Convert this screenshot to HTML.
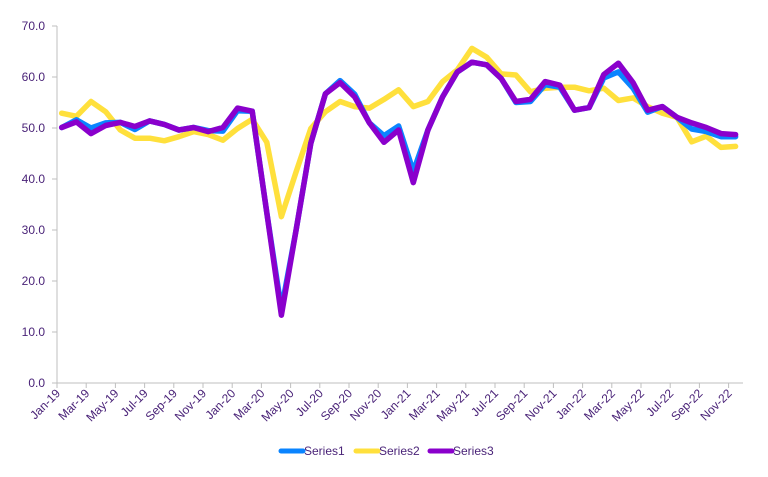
<!DOCTYPE html>
<html><head><meta charset="utf-8"><style>
body{margin:0;background:#fff;}
svg text{font-family:"Liberation Sans",sans-serif;fill:#4a2378;font-size:12px;}
</style></head><body>
<svg id="c" width="768" height="472" xmlns="http://www.w3.org/2000/svg">
<line x1="57" y1="26" x2="57" y2="383" stroke="#bfbfbf" stroke-width="1"/>
<line x1="57" y1="383" x2="743" y2="383" stroke="#bfbfbf" stroke-width="1"/>
<g id="yl"></g><g id="xl"></g>
<polyline id="s2" fill="none" stroke="#ffe03c" stroke-width="5.5" stroke-linejoin="round" stroke-linecap="round"/>
<polyline id="s1" fill="none" stroke="#0a84ff" stroke-width="5.5" stroke-linejoin="round" stroke-linecap="round"/>
<polyline id="s3" fill="none" stroke="#8a00cc" stroke-width="5.5" stroke-linejoin="round" stroke-linecap="round"/>
<line x1="281" y1="451" x2="303" y2="451" stroke="#0a84ff" stroke-width="5" stroke-linecap="round"/>
<text x="304" y="455">Series1</text>
<line x1="356" y1="451" x2="378" y2="451" stroke="#ffe03c" stroke-width="5" stroke-linecap="round"/>
<text x="379" y="455">Series2</text>
<line x1="430" y1="451" x2="452" y2="451" stroke="#8a00cc" stroke-width="5" stroke-linecap="round"/>
<text x="453" y="455">Series3</text>
</svg>
<script>
var s3=[50.1,51.2,48.9,50.5,51.1,50.3,51.4,50.7,49.6,50.1,49.3,50.1,53.9,53.3,33.4,13.3,30,47.0,56.7,58.9,56.1,51.0,47.2,49.6,39.3,49.6,56.1,61.0,62.9,62.4,59.7,55.2,55.6,59.1,58.4,53.5,54.0,60.5,62.7,58.9,53.5,54.2,52.1,51.0,50.1,48.9,48.7];
var s1=s3.slice();
s1[1]=51.6;s1[2]=50.0;s1[3]=51.0;s1[5]=49.7;s1[10]=49.5;s1[11]=49.4;s1[12]=53.4;s1[15]=14.5;s1[19]=59.3;s1[20]=56.6;s1[22]=48.5;s1[23]=50.4;s1[24]=41.5;s1[31]=55.0;s1[32]=55.2;s1[33]=58.5;s1[34]=58.0;s1[37]=59.8;s1[38]=61.0;s1[39]=57.8;s1[40]=53.1;s1[43]=49.8;s1[44]=49.3;s1[45]=48.3;s1[46]=48.3;
var s2=[52.9,52.3,55.2,53.2,49.6,48.0,48.0,47.5,48.3,49.3,48.7,47.6,49.9,51.7,47.2,32.6,41.4,49.9,53.2,55.2,54.2,53.9,55.6,57.5,54.2,55.2,59.1,61.4,65.6,63.9,60.6,60.4,57.1,57.8,58.0,58.0,57.3,57.8,55.4,55.9,54.2,52.9,52.1,47.3,48.4,46.2,46.4];
function X(i){return 61.7+i*14.65}function Y(v){return 383-v*5.1}
function pts(a){return a.map(function(v,i){return X(i).toFixed(1)+","+Y(v).toFixed(1)}).join(" ")}
document.getElementById("s1").setAttribute("points",pts(s1));
document.getElementById("s2").setAttribute("points",pts(s2));
document.getElementById("s3").setAttribute("points",pts(s3));
var ns="http://www.w3.org/2000/svg",yl=document.getElementById("yl"),xl=document.getElementById("xl");
for(var k=0;k<=7;k++){var y=Y(k*10);var l=document.createElementNS(ns,"line");l.setAttribute("x1",52);l.setAttribute("x2",57);l.setAttribute("y1",y);l.setAttribute("y2",y);l.setAttribute("stroke","#bfbfbf");yl.appendChild(l);
var t=document.createElementNS(ns,"text");t.setAttribute("x",45);t.setAttribute("y",y+4);t.setAttribute("text-anchor","end");t.textContent=(k*10).toFixed(1);yl.appendChild(t);}
var m=["Jan","Mar","May","Jul","Sep","Nov"];
for(var k=0;k<24;k++){var x=57+k*29.2;var l=document.createElementNS(ns,"line");l.setAttribute("x1",x);l.setAttribute("x2",x);l.setAttribute("y1",383);l.setAttribute("y2",388);l.setAttribute("stroke","#bfbfbf");xl.appendChild(l);
var t=document.createElementNS(ns,"text");var lx=x+4,ly=394;t.setAttribute("x",lx);t.setAttribute("y",ly);t.setAttribute("text-anchor","end");t.setAttribute("transform","rotate(-45 "+lx+" "+ly+")");t.textContent=m[k%6]+"-"+(19+Math.floor(k/6));xl.appendChild(t);}
</script>
</body></html>
